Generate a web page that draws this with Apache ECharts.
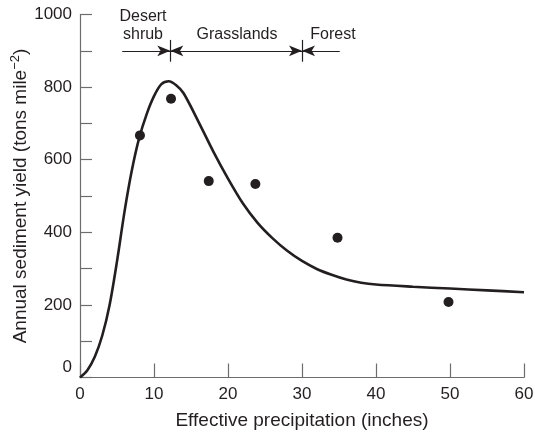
<!DOCTYPE html>
<html>
<head>
<meta charset="utf-8">
<script src="https://cdn.jsdelivr.net/npm/echarts@6/dist/echarts.min.js"></script>
<style>
html, body { margin: 0; padding: 0; background: #fff; }
#main { width: 535px; height: 435px; }
</style>
</head>
<body>
<div id="main"></div>
<script>
// fitted curve
var curveX = [0, 1, 2, 3, 4, 5, 6, 7, 8, 9, 10, 11, 12, 13, 14, 16, 18, 20, 22, 24, 26, 28, 30, 32, 34, 36, 38, 40, 45, 50, 55, 60];
var curveY = [0, 20, 57, 115, 200, 320, 455, 570, 660, 725, 775, 808, 816, 805, 783, 705, 623, 548, 480, 426, 384, 349, 321, 299, 283, 270, 261, 256, 250, 245, 240, 235];
// observed points
var obsX = [8.1, 12.3, 17.4, 23.7, 34.8, 49.8];
var obsY = [667, 768, 541, 533, 385, 208];
// vegetation zone arrows: start of desert arrow, desert/grass, grass/forest, end of forest arrow
var zoneX = [5.7, 12.2, 30, 35.1];
var zoneY = 900;

var ink = '#231f20';
var axisGrey = '#6d6d6d';
var font = 'Liberation Sans, Arial, sans-serif';

var curveData = curveX.map(function (x, i) { return [x, curveY[i]]; });
var obsData = obsX.map(function (x, i) { return [x, obsY[i]]; });

var arrowStyle = { color: ink, width: 1.2, type: 'solid' };
var zoneLines = [
    [{ coord: [zoneX[0], zoneY], symbol: 'none' }, { coord: [zoneX[1], zoneY], symbol: 'arrow' }],
    [{ coord: [zoneX[1], zoneY], symbol: 'arrow' }, { coord: [zoneX[2], zoneY], symbol: 'arrow' }],
    [{ coord: [zoneX[3], zoneY], symbol: 'none' }, { coord: [zoneX[2], zoneY], symbol: 'arrow' }],
    [{ coord: [zoneX[1], zoneY - 30], symbol: 'none' }, { coord: [zoneX[1], zoneY + 30], symbol: 'none' }],
    [{ coord: [zoneX[2], zoneY - 30], symbol: 'none' }, { coord: [zoneX[2], zoneY + 30], symbol: 'none' }]
];

var myChart = echarts.init(document.getElementById('main'));
var option = {
    animation: false,
    textStyle: { fontFamily: font },
    grid: { left: 80, right: 11, top: 14.5, bottom: 57.5, outerBoundsMode: 'none', containLabel: false },
    xAxis: {
        type: 'value',
        min: 0, max: 60, interval: 10,
        name: 'Effective precipitation (inches)',
        nameLocation: 'middle',
        nameGap: 34,
        nameTextStyle: { color: ink, fontSize: 19, fontFamily: font },
        axisLine: { lineStyle: { color: axisGrey, width: 1.2 } },
        axisTick: { inside: true, length: 14, lineStyle: { color: axisGrey, width: 1.2 } },
        axisLabel: { color: ink, fontSize: 17, margin: 8, fontFamily: font },
        splitLine: { show: false }
    },
    yAxis: {
        type: 'value',
        min: 0, max: 1000, interval: 100,
        name: 'Annual sediment yield (tons mile{sup|−2})',
        nameLocation: 'middle',
        nameGap: 48,
        nameMoveOverlap: false,
        nameTextStyle: {
            color: ink, fontSize: 19, fontFamily: font,
            rich: { sup: { fontSize: 13, color: ink, fontFamily: font, padding: [0, 0, 10, 0] } }
        },
        axisLine: { show: true, lineStyle: { color: axisGrey, width: 1.2 } },
        axisTick: { show: true, inside: true, length: 12, lineStyle: { color: axisGrey, width: 1.2 } },
        axisLabel: {
            color: ink, fontSize: 17, margin: 8, fontFamily: font,
            formatter: function (v) {
                if (v === 0) return '{z|0}';
                return v % 200 === 0 ? String(v) : '';
            },
            rich: { z: { fontSize: 17, color: ink, fontFamily: font, padding: [0, 0, 20, 0] } }
        },
        splitLine: { show: false }
    },
    series: [
        {
            name: 'curve',
            type: 'line',
            data: curveData,
            smooth: 0.3,
            showSymbol: false,
            lineStyle: { color: ink, width: 2.6 },
            z: 3
        },
        {
            name: 'observed',
            type: 'scatter',
            data: obsData,
            symbol: 'circle',
            symbolSize: 10,
            itemStyle: { color: ink, opacity: 1 },
            z: 4
        },
        {
            name: 'zones',
            type: 'line',
            data: [],
            markLine: {
                silent: true,
                symbolSize: [8, 13],
                label: { show: false },
                lineStyle: arrowStyle,
                emphasis: { disabled: true },
                data: zoneLines
            }
        }
    ],
    graphic: [
        { type: 'text', x: 143, y: 9, style: { text: 'Desert', fill: ink, font: '16px ' + font, align: 'center' } },
        { type: 'text', x: 143, y: 27, style: { text: 'shrub', fill: ink, font: '16px ' + font, align: 'center' } },
        { type: 'text', x: 237, y: 27, style: { text: 'Grasslands', fill: ink, font: '16px ' + font, align: 'center' } },
        { type: 'text', x: 333, y: 27, style: { text: 'Forest', fill: ink, font: '16px ' + font, align: 'center' } }
    ]
};
myChart.setOption(option);
</script>
</body>
</html>
